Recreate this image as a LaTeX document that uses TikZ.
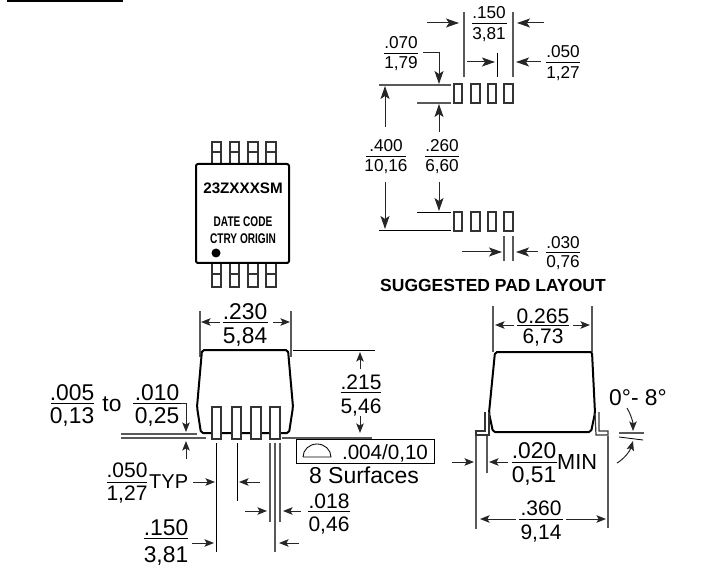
\documentclass[tikz,border=0pt]{standalone}
\usepackage{fontspec}
\setmainfont{Liberation Sans}
\usetikzlibrary{arrows.meta}
\tikzset{
  fsm/.style={font=\fontsize{17.2}{17}\selectfont},
  fmd/.style={font=\fontsize{21}{21}\selectfont},
  flg/.style={font=\fontsize{22.8}{23}\selectfont},
  fbold/.style={font=\fontsize{#1}{#1}\selectfont\bfseries},
  guide/.style={line width=1.2pt,black!65},
  leader/.style={line width=.85pt,black},
  bodyline/.style={line width=2pt,black,rounded corners=2pt,line join=round},
  pinline/.style={line width=1.2pt,black!80},
  dimS/.style={line width=1pt,black!85,-{Stealth[length=9.5pt,width=7.5pt,inset=2pt]}},
  dimL/.style={line width=1pt,black!85,-{Stealth[length=13pt,width=9pt,inset=3pt]}}
}
\newcommand{\frc}[9]{
  \node[#2,anchor=base] (#1n) at (#3,#4) {#8};
  \node[#2,anchor=base] (#1d) at (#3,#6) {#9};
  \draw [leader] (#3-#7,#5) -- (#3+#7,#5);
}
\begin{document}
\begin{tikzpicture}[x=1pt,y=-1pt]
    \tikzstyle{every node}+=[inner sep=0pt]
    \useasboundingbox (0,0) rectangle (715,572);
    \draw [black,line width=4pt] (7,0) -- (123,0);
    \draw [guide] (464,12) -- (464,77);
    \draw [guide] (513,12) -- (513,77);
    \draw [leader] (497,53) -- (497,77);
    \draw [dimL] (427,23) -- (459,23);
    \draw [dimL] (544,23) -- (517,23);
    \draw [dimL] (467,62) -- (495,62);
    \draw [dimL] (541,62) -- (516,62);
    \frc{pA}{fsm}{489}{19}{23}{40}{17.5}{.150}{3,81}
    \frc{pB}{fsm}{563}{58}{62}{79}{17}{.050}{1,27}
    \frc{pC}{fsm}{401}{49}{53}{69}{17}{.070}{1,79}
    \draw [dimL] (423,53) -- (439,53) -- (439,84);
    \draw [guide] (379,85) -- (451,85);
    \draw [guide] (417,103) -- (451,103);
    \draw [leader] (417,212) -- (451,212);
    \draw [leader] (379,230) -- (451,230);
    \draw [dimL] (385,127) -- (385,86);
    \draw [dimL] (439,132) -- (439,104);
    \draw [dimL] (385,182) -- (385,229);
    \draw [dimL] (439,182) -- (439,211);
    \frc{pD}{fsm}{386}{152}{156}{172}{20}{.400}{10,16}
    \frc{pE}{fsm}{442}{152}{156}{172}{17}{.260}{6,60}
    \draw [pinline] (454,84) rectangle (462,103);
    \draw [pinline] (471,84) rectangle (480,103);
    \draw [pinline] (488,84) rectangle (496,103);
    \draw [pinline] (504,84) rectangle (513,103);
    \draw [pinline] (454,212) rectangle (462,231);
    \draw [pinline] (471,212) rectangle (480,231);
    \draw [pinline] (488,212) rectangle (496,231);
    \draw [pinline] (504,212) rectangle (513,231);
    \draw [guide] (504,236) -- (504,261);
    \draw [guide] (513,236) -- (513,261);
    \draw [dimL] (462,252) -- (502,252);
    \draw [dimL] (538,252) -- (516,252);
    \frc{pF}{fsm}{563}{248}{252}{268}{17}{.030}{0,76}
    \node[fbold=17.5,anchor=base] (padtitle) at (493,291.5) {SUGGESTED PAD LAYOUT};
    \draw [pinline] (212,142) rectangle (221,164);
    \draw [pinline] (230,142) rectangle (239,164);
    \draw [pinline] (248,142) rectangle (258,164);
    \draw [pinline] (266,142) rectangle (276,164);
    \draw [pinline] (212,152) -- (221,152);
    \draw [pinline] (230,152) -- (239,152);
    \draw [pinline] (248,152) -- (258,152);
    \draw [pinline] (266,152) -- (276,152);
    \draw [pinline] (212,263) rectangle (221,287);
    \draw [pinline] (230,263) rectangle (239,287);
    \draw [pinline] (248,263) rectangle (258,287);
    \draw [pinline] (266,263) rectangle (276,287);
    \draw [pinline] (212,274) -- (221,274);
    \draw [pinline] (230,274) -- (239,274);
    \draw [pinline] (248,274) -- (258,274);
    \draw [pinline] (266,274) -- (276,274);
    \draw [bodyline,fill=white] (196,164) rectangle (289,263);
    \node[fbold=15.2,anchor=base] (partno) at (243,194) {23ZXXXSM};
    \node[fbold=14,anchor=base,xscale=.72,transform shape] (datecode) at (243,226.5) {DATE CODE};
    \node[fbold=14,anchor=base,xscale=.72,transform shape] (origin) at (243,243.5) {CTRY ORIGIN};
    \fill [black] (216,253) circle (4.5);
    \draw [guide] (200,311) -- (200,357);
    \draw [guide] (291,311) -- (291,357);
    \draw [dimS] (220,322) -- (201,322);
    \draw [dimS] (273,322) -- (290,322);
    \frc{sA}{flg}{245}{319}{322}{343}{22.5}{.230}{5,84}
    \draw [bodyline] (202,350) -- (288,350) -- (293,407) -- (289,433) -- (201,433) -- (197,407) -- cycle;
    \draw [pinline,fill=white] (212,407) rectangle (221,439);
    \draw [pinline,fill=white] (232,407) rectangle (241,439);
    \draw [pinline,fill=white] (251,407) rectangle (261,439);
    \draw [pinline,fill=white] (270,407) rectangle (280,439);
    \draw [guide] (121,434) -- (197,434);
    \draw [guide] (121,438) -- (206,438);
    \draw [guide] (282,438) -- (372,438);
    \frc{sB}{flg}{72}{400}{403}{423}{21.5}{.005}{0,13}
    \node[flg,anchor=base] (tolto) at (112,411) {to};
    \frc{sC}{flg}{157}{400}{403}{423}{24}{.010}{0,25}
    \draw [dimS] (181,403) -- (186,403) -- (186,432);
    \draw [dimS] (186,459) -- (186,441);
    \draw [leader] (216,443) -- (216,552);
    \draw [leader] (237,443) -- (237,501);
    \draw [guide] (270,443) -- (270,522);
    \draw [guide] (275,443) -- (275,552);
    \draw [guide] (280,443) -- (280,522);
    \frc{sD}{fmd}{127}{477}{482}{500}{20}{.050}{1,27}
    \node[font=\fontsize{20}{20}\selectfont,anchor=base west] (typ) at (149,488) {TYP};
    \draw [dimS] (193,482) -- (215,482);
    \draw [dimS] (260,482) -- (239,482);
    \draw [dimS] (245,511) -- (267,511);
    \draw [dimS] (301,511) -- (283,511);
    \draw [dimS] (192,543) -- (214,543);
    \draw [dimS] (299,543) -- (279,543);
    \frc{sE}{flg}{166}{535}{538}{562}{22}{.150}{3,81}
    \draw [leader] (293,350) -- (375,350);
    \draw [dimS] (360,369) -- (360,352);
    \draw [dimS] (360,416) -- (360,433);
    \frc{sF}{fmd}{361}{389}{392}{413}{20}{.215}{5,46}
    \draw [leader] (296,439) rectangle (434,463);
    \draw [leader] (303,457) -- (331,457) arc (0:-180:14 and 13);
    \node[font=\fontsize{20.6}{20.6}\selectfont,anchor=base] (flatness) at (385,459) {.004/0,10};
    \node[font=\fontsize{23}{23}\selectfont,anchor=base] (surfaces) at (364,483) {8 Surfaces};
    \frc{sG}{fmd}{329}{508}{511}{531}{21}{.018}{0,46}
    \draw [guide] (493,306) -- (493,352);
    \draw [guide] (592,306) -- (592,352);
    \draw [dimS] (514,325) -- (495,325);
    \draw [dimS] (573,325) -- (590,325);
    \frc{eA}{fmd}{543}{323}{325}{343}{26}{0.265}{6,73}
    \draw [bodyline] (495,352) -- (592,352) -- (595,413) -- (591,432) -- (493,432) -- (489,413) -- cycle;
    \draw [pinline] (485,412) -- (485,431) -- (476,431) -- (476,435) -- (489,435) -- (489,413);
    \draw [pinline] (599,412) -- (599,431) -- (608,431) -- (608,435) -- (596,435) -- (595,413);
    \node[flg,anchor=base] (angle) at (638,405) {0°- 8°};
    \draw [guide] (619,433) -- (644,433);
    \draw [leader] (619,437) -- (643,440);
    \draw [dimS] (627,408) .. controls (631,415) and (633,422) .. (633,431);
    \draw [dimS] (617,463) .. controls (624,459) and (630,451) .. (633,441);
    \draw [guide] (476,436) -- (476,529);
    \draw [guide] (487,436) -- (487,473);
    \draw [guide] (608,436) -- (608,528);
    \draw [dimS] (508,462) -- (489,462);
    \draw [dimS] (452,462) -- (474,462);
    \frc{eB}{flg}{534}{458}{462}{482}{22.5}{.020}{0,51}
    \node[font=\fontsize{21.8}{22}\selectfont,anchor=base west] (minlabel) at (557,469) {MIN};
    \frc{eC}{fmd}{541}{515}{519}{539}{22}{.360}{9,14}
    \draw [dimS] (516,519) -- (480,519);
    \draw [dimS] (566,519) -- (606,519);
\end{tikzpicture}
\end{document}
